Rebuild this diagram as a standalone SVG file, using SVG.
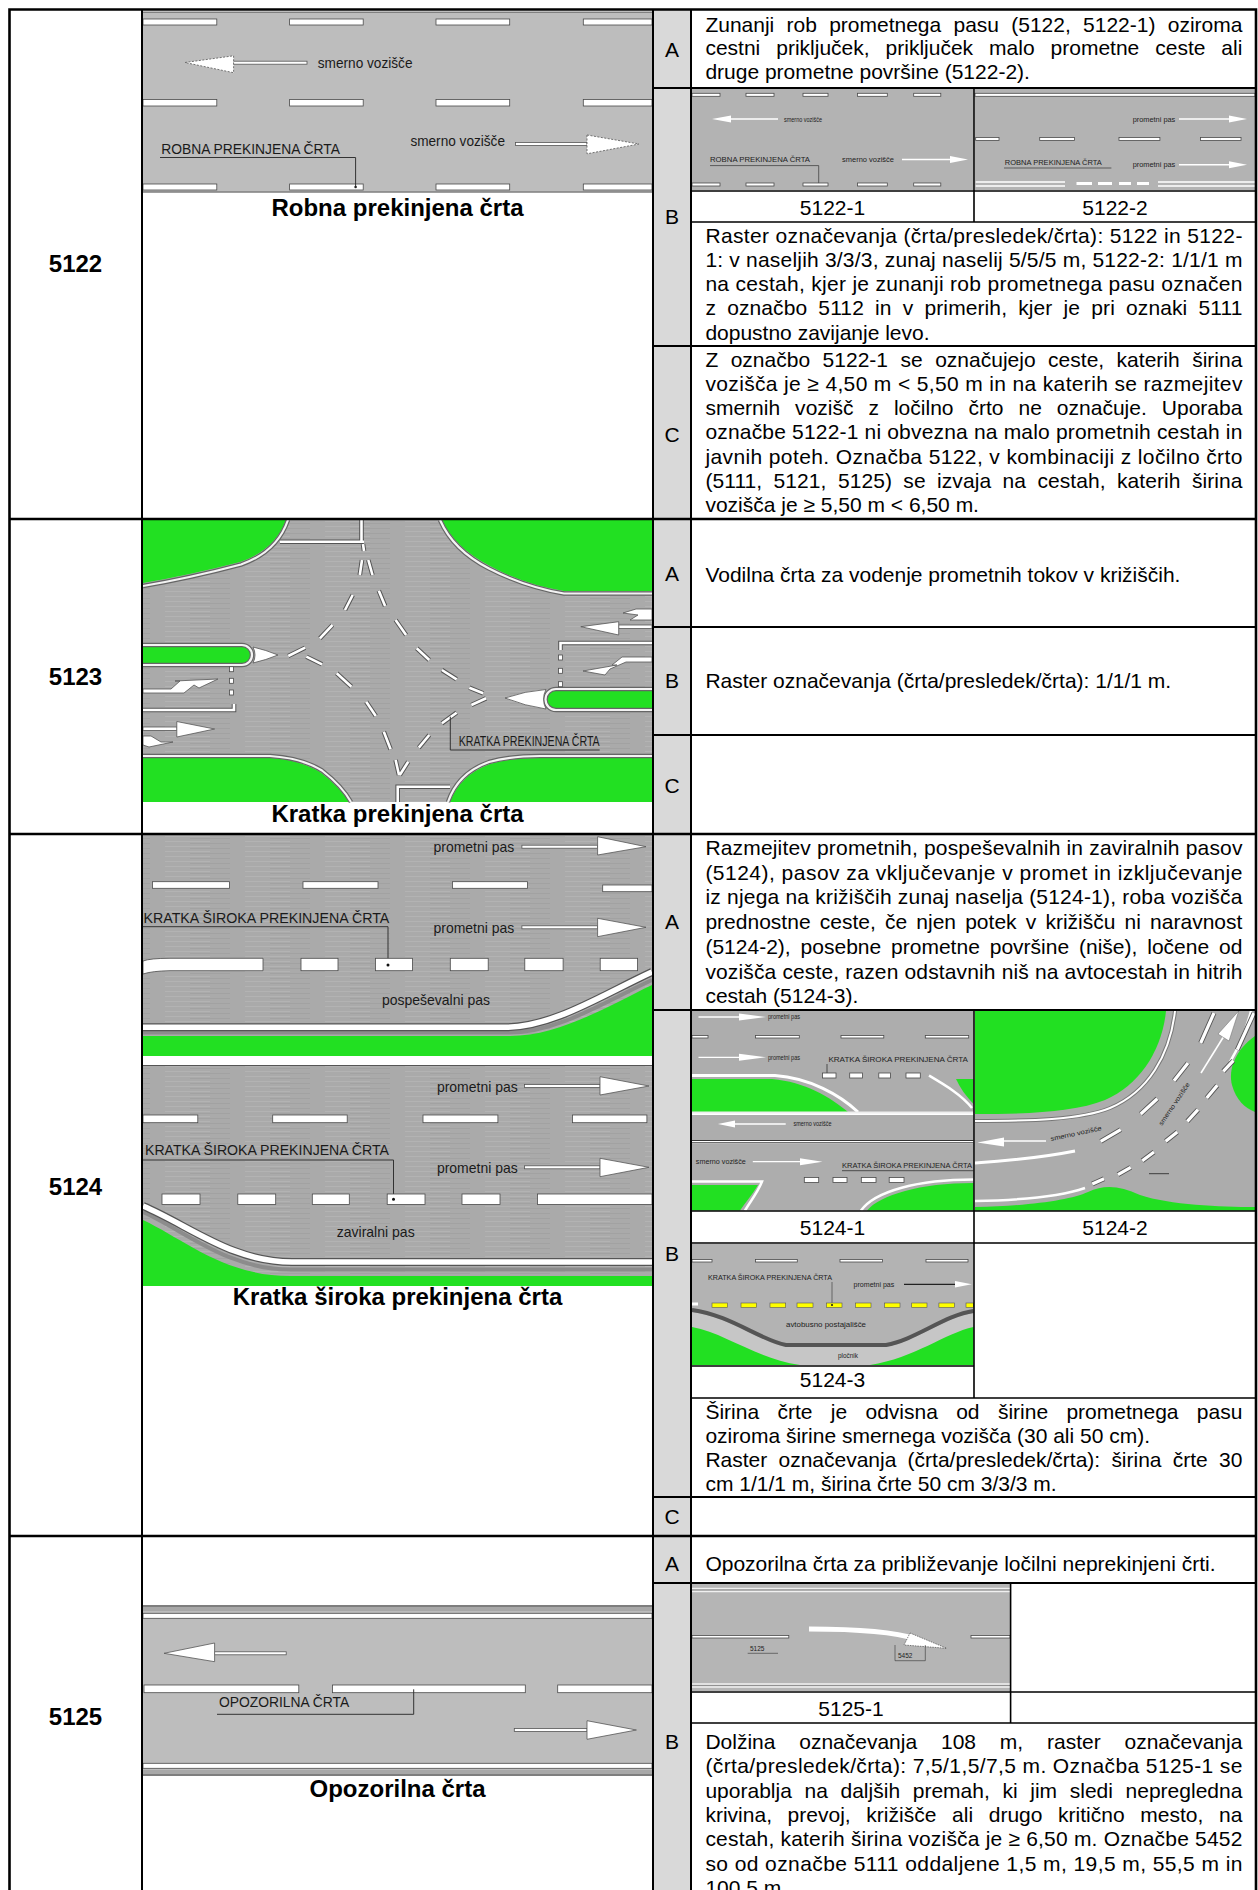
<svg xmlns="http://www.w3.org/2000/svg" width="1258" height="1890" viewBox="0 0 1258 1890">
<defs>
<style>
.t{font-family:"Liberation Sans",Arial,sans-serif;font-size:21px;fill:#000}
.c{text-anchor:middle}
.e{text-anchor:end}
.b{font-weight:bold;font-size:24px}
.s{font-family:"Liberation Sans",Arial,sans-serif;font-size:15px;fill:#1a1a1a}
.xs{font-family:"Liberation Sans",Arial,sans-serif;font-size:6.5px;fill:#222}
.dash{fill:#fff;stroke:#4a4a4a;stroke-width:0.8}
.arr{fill:#fff;stroke:#555;stroke-width:0.8}
.ld{fill:none;stroke:#333;stroke-width:1}
.gr{fill:#22e022}
.rd1{fill:#bdbdbd}
.rd2{fill:url(#br)}
.rd3{fill:#b3b3b3}
.cd{fill:none;stroke:#666;stroke-width:4.5}
.cw{fill:none;stroke:#f3f3f3;stroke-width:2.2}
.gd{fill:none;stroke:#555;stroke-width:4.6}
.gw{fill:none;stroke:#fff;stroke-width:2.6}
.grid{fill:none;stroke:#000;stroke-width:2}
</style>
<pattern id="br" width="80" height="5" patternUnits="userSpaceOnUse">
<rect width="80" height="5" fill="#aaaaaa"/>
<rect x="5" y="1" width="45" height="1" fill="#b3b3b3"/>
<rect x="30" y="3" width="40" height="1" fill="#a2a2a2"/>
</pattern>
</defs>
<rect width="1258" height="1890" fill="#fff"/>
<rect x="653" y="9.5" width="38" height="1881" fill="#d9d9d9"/>

<!-- ===== Row 5122 ===== -->
<g id="row-5122">
<text class="t c b" x="75.5" y="272">5122</text>
<g id="img-5122">
<rect class="rd1" x="143" y="11" width="509" height="182"/>
<path d="M143,12.5 H652 M143,191.8 H652" stroke="#808080" stroke-width="1.2"/>
<rect class="dash" x="143" y="19" width="73.8" height="6"/><rect class="dash" x="289.6" y="19" width="73.6" height="6"/><rect class="dash" x="436" y="19" width="73.7" height="6"/><rect class="dash" x="583.3" y="19" width="68.7" height="6"/>
<rect class="dash" x="143" y="99.5" width="73.8" height="6.5"/><rect class="dash" x="289.6" y="99.5" width="73.6" height="6.5"/><rect class="dash" x="436" y="99.5" width="73.7" height="6.5"/><rect class="dash" x="583.3" y="99.5" width="68.7" height="6.5"/>
<rect class="dash" x="143" y="184" width="73.8" height="6"/><rect class="dash" x="289.6" y="184" width="73.6" height="6"/><rect class="dash" x="436" y="184" width="73.7" height="6"/><rect class="dash" x="583.3" y="184" width="68.7" height="6"/>
<rect class="arr" x="233.6" y="61.2" width="73.4" height="3"/>
<polygon class="arr" stroke-dasharray="2 1.5" points="185,62.5 233.6,55.8 233.6,72.7"/>
<text class="s" x="317.8" y="67.6" textLength="94.7" lengthAdjust="spacingAndGlyphs">smerno vozišče</text>
<text class="s" x="410.4" y="146" textLength="94.6" lengthAdjust="spacingAndGlyphs">smerno vozišče</text>
<rect class="arr" x="515.6" y="142.5" width="71.4" height="3"/>
<polygon class="arr" stroke-dasharray="2 1.5" points="587,135 639,144 587,153.8"/>
<text class="s" x="161.2" y="153.8" textLength="178.8" lengthAdjust="spacingAndGlyphs">ROBNA PREKINJENA ČRTA</text>
<path class="ld" d="M160,157.5 H355.6 V187"/>
<circle cx="355.6" cy="187" r="1.3" fill="#222"/>
</g>
<text class="t c b" x="397.5" y="216">Robna prekinjena črta</text>

<text class="t c" x="672" y="56.5">A</text>
<text class="t" x="705.4" y="31.5" word-spacing="6.4" textLength="537" lengthAdjust="spacing">Zunanji rob prometnega pasu (5122, 5122-1) oziroma</text>
<text class="t" x="705.4" y="55.2" word-spacing="10.1" textLength="537" lengthAdjust="spacing">cestni priključek, priključek malo prometne ceste ali</text>
<text class="t" x="705.4" y="78.9">druge prometne površine (5122-2).</text>

<text class="t c" x="672" y="224">B</text>
<g id="img-5122-1">
<rect class="rd3" x="692" y="89" width="281.5" height="101"/>
<rect class="dash" x="692" y="93.3" width="28" height="3"/><rect class="dash" x="746" y="93.3" width="28" height="3"/><rect class="dash" x="803" y="93.3" width="25" height="3"/><rect class="dash" x="857.4" y="93.3" width="29.9" height="3"/><rect class="dash" x="913.7" y="93.3" width="27.1" height="3"/>
<path d="M730,119 H778" stroke="#fff" stroke-width="1.5"/>
<polygon fill="#fff" points="712,119 731,115.5 731,122.5"/>
<text class="xs" x="784" y="121.5" textLength="38" lengthAdjust="spacingAndGlyphs">smerno vozišče</text>
<text class="xs" x="710" y="161.5" textLength="100" lengthAdjust="spacingAndGlyphs">ROBNA PREKINJENA ČRTA</text>
<path d="M710,165.6 H818.7 V184" stroke="#333" stroke-width="0.7" fill="none"/>
<text class="xs" x="842" y="162" textLength="52" lengthAdjust="spacingAndGlyphs">smerno vozišče</text>
<path d="M902,159.5 H950" stroke="#fff" stroke-width="1.5"/>
<polygon fill="#fff" points="950,156 968,159.5 950,163"/>
<rect class="dash" x="692" y="183" width="28" height="3"/><rect class="dash" x="746" y="183" width="28" height="3"/><rect class="dash" x="803" y="183" width="25" height="3"/><rect class="dash" x="857.4" y="183" width="29.9" height="3"/><rect class="dash" x="913.7" y="183" width="27.1" height="3"/>
</g>
<g id="img-5122-2">
<rect class="rd3" x="975" y="89" width="280" height="101"/>
<rect class="dash" x="975" y="93.3" width="280" height="3"/>
<text class="xs" x="1132.7" y="121.5" textLength="42.6" lengthAdjust="spacingAndGlyphs">prometni pas</text>
<path d="M1179,119 H1229" stroke="#fff" stroke-width="1.5"/>
<polygon fill="#fff" points="1229,115.5 1247,119 1229,122.5"/>
<rect class="dash" x="975.7" y="137.5" width="23.3" height="3"/><rect class="dash" x="1039.7" y="137.5" width="34.9" height="3"/><rect class="dash" x="1119" y="137.5" width="40.9" height="3"/><rect class="dash" x="1200.6" y="137.5" width="40.4" height="3"/>
<text class="xs" x="1004.8" y="165" textLength="97" lengthAdjust="spacingAndGlyphs">ROBNA PREKINJENA ČRTA</text>
<path d="M1004,168 H1111.4" stroke="#333" stroke-width="0.7"/>
<text class="xs" x="1132.7" y="166.5" textLength="42.6" lengthAdjust="spacingAndGlyphs">prometni pas</text>
<path d="M1179,164.8 H1229" stroke="#fff" stroke-width="1.5"/>
<polygon fill="#fff" points="1229,161.3 1247,164.8 1229,168.3"/>
<path d="M975.7,182 H1065 M975.7,186 H1065 M1158,182 H1255 M1158,186 H1255" stroke="#fff" stroke-width="1.6"/>
<path d="M1076.5,183.5 H1092 M1098,183.5 H1112 M1119,183.5 H1131 M1137,183.5 H1149" stroke="#fff" stroke-width="3"/>
</g>
<text class="t c" x="832.5" y="214.5">5122-1</text>
<text class="t c" x="1115" y="214.5">5122-2</text>
<text class="t" x="705.4" y="242.7" textLength="537" lengthAdjust="spacing">Raster označevanja (črta/presledek/črta): 5122 in 5122-</text>
<text class="t" x="705.4" y="266.9" textLength="537" lengthAdjust="spacing">1: v naseljih 3/3/3, zunaj naselij 5/5/5 m, 5122-2: 1/1/1 m</text>
<text class="t" x="705.4" y="291.1" textLength="537" lengthAdjust="spacing">na cestah, kjer je zunanji rob prometnega pasu označen</text>
<text class="t" x="705.4" y="315.3" word-spacing="5.2" textLength="537" lengthAdjust="spacing">z označbo 5112 in v primerih, kjer je pri oznaki 5111</text>
<text class="t" x="705.4" y="339.5">dopustno zavijanje levo.</text>

<text class="t c" x="672" y="442">C</text>
<text class="t" x="705.4" y="366.8" word-spacing="6.6" textLength="537" lengthAdjust="spacing">Z označbo 5122-1 se označujejo ceste, katerih širina</text>
<text class="t" x="705.4" y="391" textLength="537" lengthAdjust="spacing">vozišča je ≥ 4,50 m &lt; 5,50 m in na katerih se razmejitev</text>
<text class="t" x="705.4" y="415.2" word-spacing="9.1" textLength="537" lengthAdjust="spacing">smernih vozišč z ločilno črto ne označuje. Uporaba</text>
<text class="t" x="705.4" y="439.4" textLength="537" lengthAdjust="spacing">označbe 5122-1 ni obvezna na malo prometnih cestah in</text>
<text class="t" x="705.4" y="463.6" textLength="537" lengthAdjust="spacing">javnih poteh. Označba 5122, v kombinaciji z ločilno črto</text>
<text class="t" x="705.4" y="487.8" word-spacing="5.5" textLength="537" lengthAdjust="spacing">(5111, 5121, 5125) se izvaja na cestah, katerih širina</text>
<text class="t" x="705.4" y="512">vozišča je ≥ 5,50 m &lt; 6,50 m.</text>
</g>

<!-- ===== Row 5123 ===== -->
<g id="row-5123">
<text class="t c b" x="75.5" y="685">5123</text>
<g id="img-5123">
<rect class="rd2" x="143" y="520" width="509" height="282"/>
<path class="gr" d="M143,520 L286,520 Q275,550 240,562 Q190,575 143,583 Z"/>
<path class="cd" d="M288,520 Q277,552 241,564.5 Q190,578 143,586"/>
<path class="cw" d="M288,520 Q277,552 241,564.5 Q190,578 143,586"/>
<path class="gr" d="M442,520 Q455,548 490,566 Q525,585 564,591 L652,591 L652,520 Z"/>
<path class="cd" d="M440,520 Q453,550 489,568.5 Q525,587 564,593.5 L652,593.5"/>
<path class="cw" d="M440,520 Q453,550 489,568.5 Q525,587 564,593.5 L652,593.5"/>
<path class="gr" d="M143,758 L270,758 Q300,760 320,772 Q340,787 349,802 L143,802 Z"/>
<path class="cd" d="M143,756 L270,756 Q302,758 322,770.5 Q342,786 351,802"/>
<path class="cw" d="M143,756 L270,756 Q302,758 322,770.5 Q342,786 351,802"/>
<path class="gr" d="M450,802 Q460,775 490,764 Q510,758 540,758 L652,758 L652,802 Z"/>
<path class="cd" d="M448,802 Q458,773 489,762 Q510,756 540,756 L652,756"/>
<path class="cw" d="M448,802 Q458,773 489,762 Q510,756 540,756 L652,756"/>
<path class="gr" d="M143,646 L242,646 A9,9 0 0 1 242,664 L143,664 Z"/>
<path class="cd" d="M143,645 L242,645 A10,10 0 0 1 242,665 L143,665"/>
<path class="cw" d="M143,645 L242,645 A10,10 0 0 1 242,665 L143,665"/>
<path class="arr" d="M253,647 Q266,650 278,655 Q266,660 253,663 Q257,655 253,647 Z"/>
<path class="gr" d="M652,690 L556,690 A9.5,9.5 0 0 0 556,709 L652,709 Z"/>
<path class="cd" d="M652,689 L556,689 A10.5,10.5 0 0 0 556,710 L652,710"/>
<path class="cw" d="M652,689 L556,689 A10.5,10.5 0 0 0 556,710 L652,710"/>
<path class="arr" d="M546,689.5 Q525,691 505,698 Q525,706 546,709 Q541,699 546,689.5 Z"/>
<path class="gd" d="M280,541.7 H364 M361.5,520 V541.7 M143,710 H234 V704 M652,643 H560.5 V650 M397.7,802 V786.7 H450"/>
<path class="gw" d="M280,541.7 H364 M361.5,520 V541.7 M143,710 H234 V704 M652,643 H560.5 V650 M397.7,802 V786.7 H450"/>
<rect class="dash" x="229.5" y="666.7" width="4" height="5"/><rect class="dash" x="229.5" y="678.3" width="4" height="5"/><rect class="dash" x="229.5" y="690" width="4" height="5"/>
<rect class="dash" x="558.6" y="655" width="4" height="5"/><rect class="dash" x="558.6" y="668.3" width="4" height="5"/><rect class="dash" x="558.6" y="681.7" width="4" height="5"/>
<path class="gd" d="M363,544 L364,551 M362,560 L359.8,575 M352.7,595 L345,610 M332.5,625 L319.9,638.3 M305.1,647.7 L288.3,656 M368.3,560 L372.5,575 M378.8,590.7 L385.1,606 M395.6,620 L406.1,635 M416.7,648.3 L429.3,660 M441.9,670 L456.6,679.3 M469.3,687.7 L483.2,693.3 M306.4,656.7 L322,664.3 M336.7,673.3 L351.4,686.7 M366.2,701.7 L375.8,716 M383.8,731.7 L390.6,749.3 M395.6,760 L399,775 M486.1,698.3 L471.4,705 M456.6,712.7 L441.9,723.3 M429.3,735 L418.8,747.7 M408.2,761.7 L399.8,775"/>
<path class="gw" d="M363,544 L364,551 M362,560 L359.8,575 M352.7,595 L345,610 M332.5,625 L319.9,638.3 M305.1,647.7 L288.3,656 M368.3,560 L372.5,575 M378.8,590.7 L385.1,606 M395.6,620 L406.1,635 M416.7,648.3 L429.3,660 M441.9,670 L456.6,679.3 M469.3,687.7 L483.2,693.3 M306.4,656.7 L322,664.3 M336.7,673.3 L351.4,686.7 M366.2,701.7 L375.8,716 M383.8,731.7 L390.6,749.3 M395.6,760 L399,775 M486.1,698.3 L471.4,705 M456.6,712.7 L441.9,723.3 M429.3,735 L418.8,747.7 M408.2,761.7 L399.8,775"/>
<rect class="arr" x="143" y="727" width="34" height="3.5"/>
<polygon class="arr" points="176.8,721.5 214.6,729 176.8,737"/>
<polygon class="arr" points="143,736 151,736 161,742 173,742 149,747 143,745"/>
<polygon class="arr" points="143,689 171,689 180,681 175,681 218,679 199,688 194,685 184,693 143,693"/>
<rect class="arr" x="618.7" y="625" width="33.3" height="3.5"/>
<polygon class="arr" points="580.8,626.7 618.7,621.7 618.7,635"/>
<polygon class="arr" points="652,609 636,609 623,613 638,615 630,620 652,620"/>
<polygon class="arr" points="652,657 622,657 612,665 617,665 583,671 605,675 610,669 626,662 652,662"/>
<path class="ld" d="M450.3,716.7 V750 H599.7"/>
<text class="s" x="458.7" y="746" font-size="13.5" textLength="141" lengthAdjust="spacingAndGlyphs">KRATKA PREKINJENA ČRTA</text>
</g>
<text class="t c b" x="397.5" y="821.7">Kratka prekinjena črta</text>
<text class="t c" x="672" y="581">A</text>
<text class="t" x="705.4" y="581.5">Vodilna črta za vodenje prometnih tokov v križiščih.</text>
<text class="t c" x="672" y="688">B</text>
<text class="t" x="705.4" y="687.5">Raster označevanja (črta/presledek/črta): 1/1/1 m.</text>
<text class="t c" x="672" y="792.5">C</text>
</g>

<!-- ===== Row 5124 ===== -->
<g id="row-5124">
<text class="t c b" x="75.5" y="1195">5124</text>
<g id="img-5124-a">
<rect class="rd2" x="143" y="835" width="509" height="221"/>
<text class="s" x="433.5" y="851.7" textLength="80.8" lengthAdjust="spacingAndGlyphs">prometni pas</text>
<rect class="arr" x="521.9" y="845.2" width="75.7" height="3"/>
<polygon class="arr" points="597.6,836.7 646,846.7 597.6,855"/>
<rect class="dash" x="152.4" y="881.7" width="77" height="6.6"/><rect class="dash" x="303" y="881.7" width="75" height="6.6"/><rect class="dash" x="452.4" y="881.7" width="75" height="6.6"/><rect class="dash" x="602.7" y="885" width="49.3" height="6.7"/>
<text class="s" x="143.5" y="922.7" textLength="245.8" lengthAdjust="spacingAndGlyphs">KRATKA ŠIROKA PREKINJENA ČRTA</text>
<path class="ld" d="M143,926.7 H388 V965"/>
<text class="s" x="433.5" y="932.7" textLength="80.8" lengthAdjust="spacingAndGlyphs">prometni pas</text>
<rect class="arr" x="521.9" y="925.8" width="75.7" height="3"/>
<polygon class="arr" points="597.6,918.3 646,927.3 597.6,936.7"/>
<path class="dash" d="M143,961 Q150,958.3 170,958.3 L263,958.3 L263,970.7 L170,970.7 Q152,971 143,974 Z"/>
<rect class="dash" x="301" y="958.3" width="37" height="12.4"/><rect class="dash" x="375.4" y="958.3" width="37.1" height="12.4"/><rect class="dash" x="450.3" y="958.3" width="37.9" height="12.4"/><rect class="dash" x="524.8" y="958.3" width="38.3" height="12.4"/><rect class="dash" x="600.2" y="958.3" width="37.4" height="12.4"/>
<circle cx="388" cy="965" r="1.5" fill="#111"/>
<text class="s" x="382" y="1005" textLength="108" lengthAdjust="spacingAndGlyphs">pospeševalni pas</text>
<path class="gr" d="M143,1036 L510,1036 C560,1036 610,1005 652,985 L652,1056 L143,1056 Z"/>
<path d="M143,1032.5 L510,1032.5 C558,1032.5 606,1001 652,980" fill="none" stroke="#8c8c8c" stroke-width="4"/>
<path d="M143,1027.3 L505,1027.3 C553,1027.3 602,995 652,972" fill="none" stroke="#555" stroke-width="8"/>
<path d="M143,1027.3 L505,1027.3 C553,1027.3 602,995 652,972" fill="none" stroke="#fff" stroke-width="5.6"/>
</g>
<g id="img-5124-b">
<rect class="rd2" x="143" y="1065" width="509" height="221"/>
<path d="M143,1065.5 H652" stroke="#555" stroke-width="1.2"/>
<text class="s" x="436.9" y="1091.7" textLength="80.8" lengthAdjust="spacingAndGlyphs">prometni pas</text>
<rect class="arr" x="524.5" y="1084.5" width="75.5" height="3"/>
<polygon class="arr" points="600,1076.7 649,1086 600,1095"/>
<rect class="dash" x="143" y="1115" width="54.8" height="7.7"/><rect class="dash" x="272.7" y="1115" width="74.5" height="7.7"/><rect class="dash" x="423" y="1115" width="74.9" height="7.7"/><rect class="dash" x="572.4" y="1115" width="74.5" height="7.7"/>
<text class="s" x="145" y="1155" textLength="244" lengthAdjust="spacingAndGlyphs">KRATKA ŠIROKA PREKINJENA ČRTA</text>
<path class="ld" d="M143,1160 H393.5 V1199.3"/>
<text class="s" x="436.9" y="1172.7" textLength="80.8" lengthAdjust="spacingAndGlyphs">prometni pas</text>
<rect class="arr" x="524.5" y="1165.8" width="75.5" height="3"/>
<polygon class="arr" points="600,1158.3 649,1167.3 600,1176.7"/>
<rect class="dash" x="162" y="1194" width="38" height="10.5"/><rect class="dash" x="237.8" y="1194" width="37.9" height="10.5"/><rect class="dash" x="312.3" y="1194" width="37" height="10.5"/><rect class="dash" x="387.2" y="1194" width="37.8" height="10.5"/><rect class="dash" x="462" y="1194" width="38" height="10.5"/><rect class="dash" x="537.5" y="1194" width="114.5" height="10.5"/>
<circle cx="393.5" cy="1199.3" r="1.5" fill="#111"/>
<text class="s" x="336.7" y="1236.7" textLength="78" lengthAdjust="spacingAndGlyphs">zaviralni pas</text>
<path class="gr" d="M143,1220 C185,1240 225,1276 290,1276 L652,1276 L652,1286 L143,1286 Z"/>
<path d="M143,1212 C187,1232 228,1269.5 290,1269.5 L652,1269.5" fill="none" stroke="#8c8c8c" stroke-width="4"/>
<path d="M143,1206 C190,1226 232,1262 292,1262 L652,1262" fill="none" stroke="#555" stroke-width="8"/>
<path d="M143,1206 C190,1226 232,1262 292,1262 L652,1262" fill="none" stroke="#fff" stroke-width="5.6"/>
</g>
<text class="t c b" x="397.5" y="1305">Kratka široka prekinjena črta</text>

<text class="t c" x="672" y="929">A</text>
<text class="t" x="705.4" y="855" textLength="537" lengthAdjust="spacing">Razmejitev prometnih, pospeševalnih in zaviralnih pasov</text>
<text class="t" x="705.4" y="879.7" textLength="537" lengthAdjust="spacing">(5124), pasov za vključevanje v promet in izključevanje</text>
<text class="t" x="705.4" y="904.4" textLength="537" lengthAdjust="spacing">iz njega na križiščih zunaj naselja (5124-1), roba vozišča</text>
<text class="t" x="705.4" y="929.1" word-spacing="3.3" textLength="537" lengthAdjust="spacing">prednostne ceste, če njen potek v križišču ni naravnost</text>
<text class="t" x="705.4" y="953.8" word-spacing="4" textLength="537" lengthAdjust="spacing">(5124-2), posebne prometne površine (niše), ločene od</text>
<text class="t" x="705.4" y="978.5" textLength="537" lengthAdjust="spacing">vozišča ceste, razen odstavnih niš na avtocestah in hitrih</text>
<text class="t" x="705.4" y="1003.2">cestah (5124-3).</text>

<text class="t c" x="672" y="1261">B</text>
<g id="img-5124-1">
<rect fill="#adadad" x="692" y="1011" width="281.5" height="102"/>
<path d="M698.5,1017 H741" stroke="#fff" stroke-width="1.3"/>
<polygon fill="#fff" points="739,1013.5 766,1017 739,1020.5"/>
<text class="xs" x="768" y="1019.3" font-size="6" textLength="32" lengthAdjust="spacingAndGlyphs">prometni pas</text>
<rect class="dash" x="692" y="1035.5" width="16" height="2.5"/><rect class="dash" x="755.5" y="1035.5" width="43.8" height="2.5"/><rect class="dash" x="841" y="1035.5" width="42.8" height="2.5"/><rect class="dash" x="925.3" y="1035.5" width="43.4" height="2.5"/>
<path d="M698.5,1057.3 H741" stroke="#fff" stroke-width="1.3"/>
<polygon fill="#fff" points="739,1053.8 766,1057.3 739,1060.8"/>
<text class="xs" x="768" y="1059.6" font-size="6" textLength="32" lengthAdjust="spacingAndGlyphs">prometni pas</text>
<text class="xs" x="828.4" y="1062" textLength="139.6" lengthAdjust="spacingAndGlyphs">KRATKA ŠIROKA PREKINJENA ČRTA</text>
<path d="M827,1064 V1074" stroke="#222" stroke-width="0.7"/>
<rect class="dash" x="822.5" y="1073" width="13.5" height="5"/><rect class="dash" x="849.7" y="1073" width="12.8" height="5"/><rect class="dash" x="878.8" y="1073" width="11.6" height="5"/><rect class="dash" x="906" y="1073" width="14.3" height="5"/>
<path class="gr" d="M692,1079 L772,1079 C805,1082 830,1097 848,1112 L692,1112 Z"/>
<path d="M692,1075.5 L775,1075.5 C810,1078 840,1095 858,1112" fill="none" stroke="#fff" stroke-width="3"/>
<path class="gr" d="M956,1079 L973.5,1079 L973.5,1104 C966,1096 960,1088 956,1079 Z"/>
<path d="M929,1075.5 C945,1085 962,1095 972,1108" fill="none" stroke="#fff" stroke-width="2.5"/>
<path d="M692,1112.5 H973.5" stroke="#eee" stroke-width="2"/>
<rect fill="#adadad" x="692" y="1115" width="281.5" height="25"/>
<path d="M733,1124 H785.7" stroke="#fff" stroke-width="1.3"/>
<polygon fill="#fff" points="717.9,1124 735,1120.5 735,1127.5"/>
<text class="xs" x="793.5" y="1126.3" textLength="38" lengthAdjust="spacingAndGlyphs">smerno vozišče</text>
<path d="M692,1140.5 H973.5 M692,1142.8 H973.5" stroke="#333" stroke-width="1"/>
<rect fill="#adadad" x="692" y="1143.5" width="281.5" height="67"/>
<text class="xs" x="695.8" y="1163.8" textLength="50" lengthAdjust="spacingAndGlyphs">smerno vozišče</text>
<path d="M752.8,1161.7 H802" stroke="#fff" stroke-width="1.3"/>
<polygon fill="#fff" points="800,1158.2 822.5,1161.7 800,1165.2"/>
<text class="xs" x="842" y="1168" textLength="130" lengthAdjust="spacingAndGlyphs">KRATKA ŠIROKA PREKINJENA ČRTA</text>
<path d="M842,1170.7 H973.5" stroke="#222" stroke-width="0.7"/>
<rect class="dash" x="804.3" y="1177.5" width="14.4" height="5"/><rect class="dash" x="833" y="1177.5" width="14" height="5"/><rect class="dash" x="861.3" y="1177.5" width="14.7" height="5"/><rect class="dash" x="889.2" y="1177.5" width="14.8" height="5"/>
<path class="gr" d="M692,1185 L758,1185 C752,1195 745,1203 740,1210.5 L692,1210.5 Z"/>
<path d="M692,1181.5 L762,1181.5 C758,1192 750,1202 745,1210.5" fill="none" stroke="#fff" stroke-width="2.5"/>
<path class="gr" d="M867,1210.5 C880,1195 920,1183 973.5,1183 L973.5,1210.5 Z"/>
<path d="M861,1210.5 C875,1191 918,1179.5 973.5,1179.5" fill="none" stroke="#fff" stroke-width="2.5"/>
</g>
<g id="img-5124-2">
<rect fill="#acacac" x="975" y="1011" width="280" height="200"/>
<path class="gr" d="M975,1011 L1166,1011 C1162,1050 1140,1085 1105,1100 C1075,1112 1030,1114 975,1114 Z"/>
<path d="M1175,1011 C1170,1055 1148,1092 1110,1108 C1080,1120 1030,1121 975,1121" fill="none" stroke="#777" stroke-width="4"/>
<path d="M1175,1011 C1170,1055 1148,1092 1110,1108 C1080,1120 1030,1121 975,1121" fill="none" stroke="#fff" stroke-width="2"/>
<path class="gr" d="M1255,1036 C1235,1050 1228,1070 1232,1085 C1236,1100 1245,1108 1255,1112 Z"/>
<path d="M1251,1011 C1246,1030 1240,1045 1230,1062" fill="none" stroke="#fff" stroke-width="2.5"/>
<path class="gr" d="M975,1210.5 L975,1207 C1030,1206 1070,1200 1088,1192 C1105,1184 1120,1186 1140,1195 C1170,1205 1220,1207 1255,1207 L1255,1210.5 Z"/>
<path d="M975,1201 C1030,1200 1065,1195 1085,1188" fill="none" stroke="#fff" stroke-width="2.5"/>
<path d="M975,1163 C1020,1160 1055,1155 1075,1151" fill="none" stroke="#fff" stroke-width="3"/>
<path d="M1003,1141 H1046" stroke="#fff" stroke-width="1.3"/>
<polygon fill="#fff" points="977.3,1142.5 1004,1137.5 1004,1146.5"/>
<path class="gd" style="stroke-width:5" d="M1100.7,1141.3 L1120.7,1129.7 M1140.7,1114 L1157.3,1098.7 M1174,1080.7 L1188,1063 M1200.7,1043 L1214,1013 M1092.3,1184 L1104,1178.7 M1118,1174.7 L1130.7,1167.3 M1142.3,1160.7 L1154,1152 M1165.7,1141.3 L1177.3,1132 M1187.3,1121.3 L1198,1109.7 M1206.7,1098 L1217.3,1085.3 M1223.3,1071.3 L1233.3,1060.7 M1237.3,1049.7 L1254,1013"/>
<path class="gw" style="stroke-width:3.2" d="M1100.7,1141.3 L1120.7,1129.7 M1140.7,1114 L1157.3,1098.7 M1174,1080.7 L1188,1063 M1200.7,1043 L1214,1013 M1092.3,1184 L1104,1178.7 M1118,1174.7 L1130.7,1167.3 M1142.3,1160.7 L1154,1152 M1165.7,1141.3 L1177.3,1132 M1187.3,1121.3 L1198,1109.7 M1206.7,1098 L1217.3,1085.3 M1223.3,1071.3 L1233.3,1060.7 M1237.3,1049.7 L1254,1013"/>
<path d="M1201,1073 L1224,1036" stroke="#fff" stroke-width="1.6"/>
<polygon fill="#fff" stroke="#666" stroke-width="0.5" points="1238.7,1011 1229,1041 1218,1034"/>
<text class="xs" transform="translate(1051,1141) rotate(-12)" textLength="52" lengthAdjust="spacingAndGlyphs">smerno vozišče</text>
<text class="xs" transform="translate(1162,1126) rotate(-56)" textLength="50" lengthAdjust="spacingAndGlyphs">smerno vozišče</text>
<path d="M1149,1173.7 H1169" stroke="#222" stroke-width="0.8"/>
</g>
<text class="t c" x="832.5" y="1235">5124-1</text>
<text class="t c" x="1115" y="1235">5124-2</text>
<g id="img-5124-3">
<rect fill="#b3b3b3" x="692" y="1244" width="281.5" height="121"/>
<rect class="dash" x="692" y="1259.5" width="20" height="2.5"/><rect class="dash" x="755.5" y="1259.5" width="41.8" height="2.5"/><rect class="dash" x="840" y="1259.5" width="42.6" height="2.5"/><rect class="dash" x="926" y="1259.5" width="42" height="2.5"/>
<text class="xs" x="708" y="1280" font-size="6" textLength="124" lengthAdjust="spacingAndGlyphs">KRATKA ŠIROKA PREKINJENA ČRTA</text>
<text class="xs" x="853.6" y="1287" font-size="6" textLength="40.7" lengthAdjust="spacingAndGlyphs">prometni pas</text>
<path d="M904,1284.3 H956" stroke="#222" stroke-width="1.2"/>
<polygon fill="#fff" points="955,1281 971.8,1284.3 955,1287.6"/>
<path d="M832,1282 V1305" stroke="#333" stroke-width="0.6"/>
<path d="M692,1304 H698" stroke="#fff" stroke-width="3"/>
<g fill="#ffff00" stroke="#555" stroke-width="0.6">
<rect x="712" y="1303" width="15.6" height="4.5"/><rect x="741" y="1303" width="15.6" height="4.5"/><rect x="770" y="1303" width="15.7" height="4.5"/><rect x="797" y="1303" width="16" height="4.5"/><rect x="826.4" y="1303" width="15.6" height="4.5"/><rect x="855.5" y="1303" width="15.5" height="4.5"/><rect x="884.6" y="1303" width="15.4" height="4.5"/><rect x="911.7" y="1303" width="15.3" height="4.5"/><rect x="938.9" y="1303" width="15.5" height="4.5"/><rect x="966" y="1303" width="7.5" height="4.5"/>
</g>
<circle cx="832" cy="1305" r="1" fill="#111"/>
<path fill="#c6c6c6" d="M692,1312 C730,1317 760,1342 786,1347 L886,1347 C915,1342 945,1317 973.5,1313 L973.5,1365 L692,1365 Z"/>
<path class="gr" d="M692,1327 C725,1333 755,1358 800,1365 L692,1365 Z"/>
<path class="gr" d="M973.5,1327 C945,1333 915,1358 870,1365 L973.5,1365 Z"/>
<path d="M692,1310 C730,1315 760,1340 786,1345 L886,1345 C915,1340 945,1315 973.5,1311" fill="none" stroke="#555" stroke-width="4"/>
<text class="xs" x="786" y="1327" font-size="6" textLength="80" lengthAdjust="spacingAndGlyphs">avtobusno postajališče</text>
<text class="xs" x="838" y="1358" font-size="5" textLength="20" lengthAdjust="spacingAndGlyphs">pločnik</text>
</g>
<text class="t c" x="832.5" y="1387">5124-3</text>
<text class="t" x="705.4" y="1419" word-spacing="12.5" textLength="537" lengthAdjust="spacing">Širina črte je odvisna od širine prometnega pasu</text>
<text class="t" x="705.4" y="1443">oziroma širine smernega vozišča (30 ali 50 cm).</text>
<text class="t" x="705.4" y="1467" word-spacing="5.4" textLength="537" lengthAdjust="spacing">Raster označevanja (črta/presledek/črta): širina črte 30</text>
<text class="t" x="705.4" y="1491">cm 1/1/1 m, širina črte 50 cm 3/3/3 m.</text>
<text class="t c" x="672" y="1524">C</text>
</g>

<!-- ===== Row 5125 ===== -->
<g id="row-5125">
<text class="t c b" x="75.5" y="1725">5125</text>
<g id="img-5125">
<rect class="rd1" x="143" y="1605" width="509" height="171"/>
<path d="M143,1606 H652 M143,1775 H652" stroke="#6a6a6a" stroke-width="1.5"/>
<rect x="143" y="1607" width="509" height="4" fill="#a8a8a8"/>
<rect x="143" y="1770" width="509" height="4" fill="#a8a8a8"/>
<rect class="dash" x="143" y="1613.3" width="509" height="5"/>
<rect class="dash" x="143" y="1763.3" width="509" height="5"/>
<rect class="arr" x="214.6" y="1651.8" width="71.6" height="3"/>
<polygon class="arr" points="164,1653.3 214.6,1643 214.6,1661.7"/>
<rect class="dash" x="144" y="1685" width="154.8" height="7.7"/><rect class="dash" x="332.5" y="1685" width="192.8" height="7.7"/><rect class="dash" x="557.7" y="1685" width="94.3" height="7.7"/>
<text class="s" x="218.9" y="1706.7" textLength="130.4" lengthAdjust="spacingAndGlyphs">OPOZORILNA ČRTA</text>
<path class="ld" d="M217,1714.3 H413.7 V1689.3"/>
<rect class="arr" x="514.3" y="1728.5" width="72.7" height="3"/>
<polygon class="arr" points="587,1720.7 636.4,1730 587,1739.3"/>
</g>
<text class="t c b" x="397.5" y="1796.7">Opozorilna črta</text>
<text class="t c" x="672" y="1571">A</text>
<text class="t" x="705.4" y="1571">Opozorilna črta za približevanje ločilni neprekinjeni črti.</text>
<text class="t c" x="672" y="1749">B</text>
<g id="img-5125-1">
<rect fill="#b5b5b5" x="692" y="1584" width="318" height="107"/>
<path d="M692,1588.5 H1010 M692,1591.5 H1010 M692,1684 H1010 M692,1687 H1010" stroke="#f0f0f0" stroke-width="1.4"/>
<path d="M692,1589.9 H1010 M692,1685.5 H1010" stroke="#888" stroke-width="0.8"/>
<rect class="dash" x="692" y="1635.5" width="96.8" height="2.5"/><rect class="dash" x="971" y="1635.5" width="39" height="2.5"/>
<path d="M809,1629 C860,1629 895,1632 916,1639" fill="none" stroke="#fff" stroke-width="5"/>
<polygon fill="#fff" stroke="#333" stroke-width="0.6" stroke-dasharray="1.5 1" points="910,1633 946.6,1648.3 904,1645"/>
<text class="xs" x="750" y="1651" font-size="5.5">5125</text>
<path d="M747.7,1653.3 H778" stroke="#333" stroke-width="0.6"/>
<text class="xs" x="898" y="1658" font-size="5.5">5452</text>
<path d="M895,1645 V1660.7 H925.3 V1645" fill="none" stroke="#333" stroke-width="0.6"/>
</g>
<text class="t c" x="851" y="1716">5125-1</text>
<text class="t" x="705.4" y="1749" word-spacing="18" textLength="537" lengthAdjust="spacing">Dolžina označevanja 108 m, raster označevanja</text>
<text class="t" x="705.4" y="1773.3" textLength="537" lengthAdjust="spacing">(črta/presledek/črta): 7,5/1,5/7,5 m. Označba 5125-1 se</text>
<text class="t" x="705.4" y="1797.6" word-spacing="6.8" textLength="537" lengthAdjust="spacing">uporablja na daljših premah, ki jim sledi nepregledna</text>
<text class="t" x="705.4" y="1821.9" word-spacing="9.8" textLength="537" lengthAdjust="spacing">krivina, prevoj, križišče ali drugo kritično mesto, na</text>
<text class="t" x="705.4" y="1846.2" textLength="537" lengthAdjust="spacing">cestah, katerih širina vozišča je ≥ 6,50 m. Označbe 5452</text>
<text class="t" x="705.4" y="1870.5" textLength="537" lengthAdjust="spacing">so od označbe 5111 oddaljene 1,5 m, 19,5 m, 55,5 m in</text>
<text class="t" x="705.4" y="1894.8">100,5 m.</text>
</g>

<!-- ===== Table grid (connectors) ===== -->
<g id="grid" class="grid">
<path stroke-width="2.6" d="M9.5,1890 V9.5 H1256 V1890"/>
<path d="M142,9.5 V1890 M653,9.5 V1890 M691,9.5 V1890"/>
<path stroke-width="2.4" d="M9.5,519 H1256 M9.5,834 H1256 M9.5,1536 H1256"/>
<path d="M653,88 H1256 M653,346 H1256 M653,627 H1256 M653,735 H1256 M653,1010 H1256 M653,1497 H1256 M653,1583 H1256"/>
<path stroke-width="1.6" d="M691,191 H1256 M691,222 H1256 M974,88 V222 M691,1211 H1256 M691,1243 H1256 M691,1366 H974 M691,1398 H1256 M974,1010 V1398 M691,1692 H1256 M691,1723 H1256 M1010.6,1583 V1723"/>
</g>
</svg>
